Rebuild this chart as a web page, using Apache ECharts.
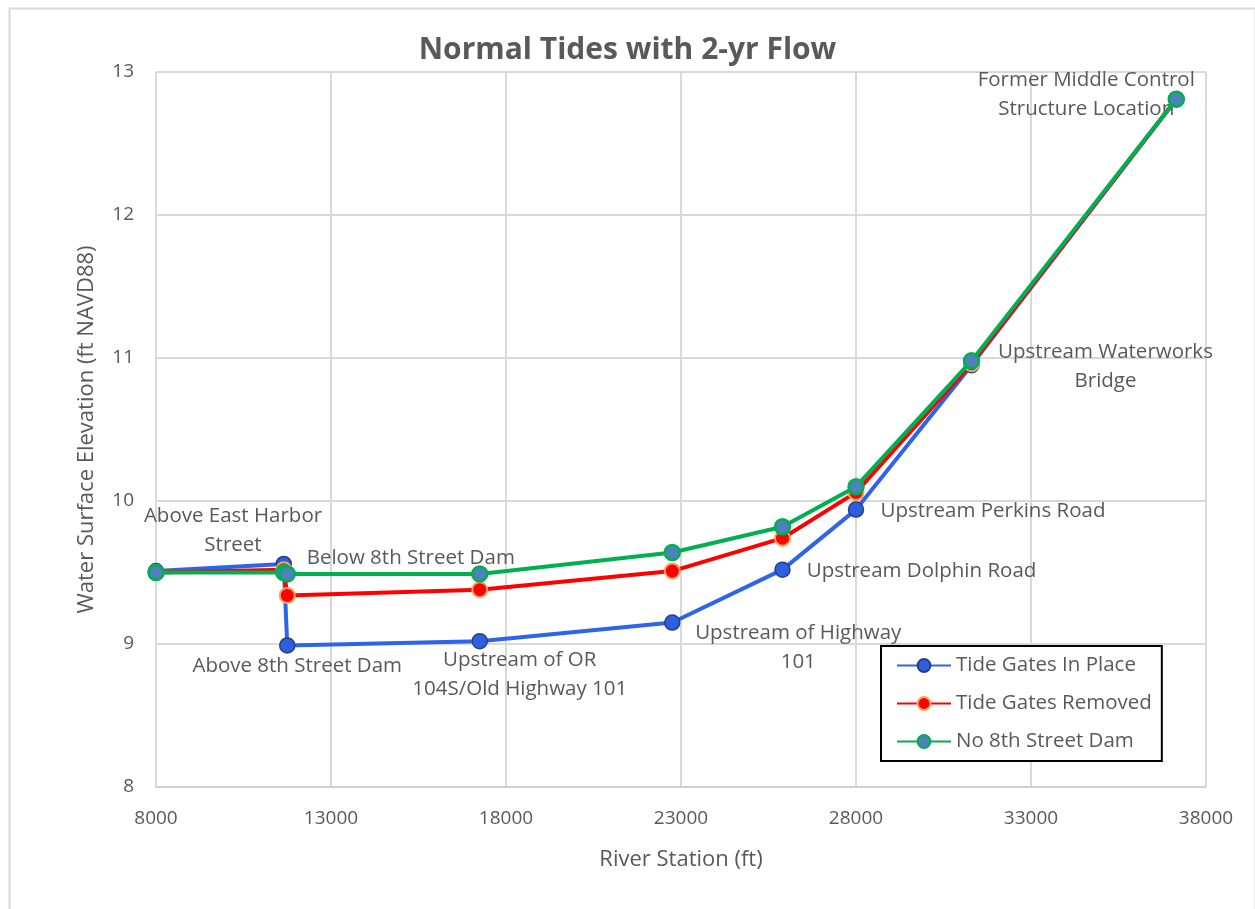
<!DOCTYPE html>
<html>
<head>
<meta charset="utf-8">
<script src="https://cdn.jsdelivr.net/npm/echarts@6/dist/echarts.min.js"></script>
<style>
html,body{margin:0;padding:0;background:#fff;}
#chart{width:1255px;height:909px;}
</style>
</head>
<body>
<div id="chart"></div>
<script>
// ---- data ----
const titleText = 'Normal Tides with 2-yr Flow';
const xAxisName = 'River Station (ft)';
const yAxisName = 'Water Surface Elevation (ft NAVD88)';
const seriesNames = ['Tide Gates In Place', 'Tide Gates Removed', 'No 8th Street Dam'];
const stations = [8000, 11650, 11750, 17250, 22750, 25900, 28000, 31300, 37150];
const tideGatesInPlace = [9.51, 9.56, 8.99, 9.02, 9.15, 9.52, 9.94, 10.95, 12.81];
const tideGatesRemoved = [9.50, 9.52, 9.34, 9.38, 9.51, 9.74, 10.06, 10.96, 12.81];
const no8thStreetDam   = [9.50, 9.50, 9.49, 9.49, 9.64, 9.82, 10.10, 10.98, 12.81];
const locationLabels = [
  'Above East Harbor\nStreet',
  'Below 8th Street Dam',
  'Above 8th Street Dam',
  'Upstream of OR\n104S/Old Highway 101',
  'Upstream of Highway\n101',
  'Upstream Dolphin Road',
  'Upstream Perkins Road',
  'Upstream Waterworks\nBridge',
  'Former Middle Control\nStructure Location'
];

// ---- label placement (pixel offsets from the point) ----
const labelOffsets = [
  [77, -40], [127, -6], [10, 21], [40, 34], [126, 25], [139, 2], [137, 2], [134, 2], [-90, -5]
];

const FONT = '"Open Sans", "Noto Sans", sans-serif';
const TXT = '#595959';

function pairs(ys) { return stations.map((x, i) => [x, ys[i]]); }

const blueData = stations.map((x, i) => ({
  value: [x, tideGatesInPlace[i]],
  label: {
    show: true,
    formatter: locationLabels[i],
    position: 'inside',
    offset: labelOffsets[i],
    align: 'center',
    verticalAlign: 'middle',
    color: TXT,
    fontFamily: FONT,
    fontSize: 20.5,
    lineHeight: 29
  }
}));

const chart = echarts.init(document.getElementById('chart'), null, {renderer: 'canvas'});
chart.setOption({
  animation: false,
  backgroundColor: '#fff',
  graphic: [{
    type: 'rect', left: 7, top: 6, z: -10,
    shape: {width: 1246, height: 920},
    style: {fill: 'none', stroke: '#d9d9d9', lineWidth: 2}
  }],
  title: {
    text: titleText, left: 'center', top: 30,
    textStyle: {fontFamily: FONT, fontSize: 30, fontWeight: 'bold', color: TXT}
  },
  grid: {left: 156, right: 49, top: 72, bottom: 122, containLabel: false},
  legend: {
    orient: 'vertical', left: 881, top: 646,
    data: seriesNames,
    backgroundColor: '#fff', borderColor: '#000', borderWidth: 2,
    padding: [9, 10, 9, 15],
    itemWidth: 54, itemHeight: 16, itemGap: 17,
    textStyle: {fontFamily: FONT, fontSize: 20.5, color: TXT}
  },
  xAxis: {
    type: 'value', min: 8000, max: 38000, interval: 5000,
    name: xAxisName, nameLocation: 'middle', nameGap: 62,
    nameTextStyle: {fontFamily: FONT, fontSize: 22, color: TXT},
    axisLine: {show: true, lineStyle: {color: '#d0d0d0', width: 2}},
    axisTick: {show: false},
    axisLabel: {fontFamily: FONT, fontSize: 19, color: TXT, margin: 22, formatter: v => String(v)},
    splitLine: {show: true, lineStyle: {color: '#d9d9d9', width: 2}}
  },
  yAxis: {
    type: 'value', min: 8, max: 13, interval: 1,
    name: yAxisName, nameLocation: 'middle', nameGap: 58,
    nameTextStyle: {fontFamily: FONT, fontSize: 22, color: TXT},
    axisLine: {show: false}, axisTick: {show: false},
    axisLabel: {fontFamily: FONT, fontSize: 19, color: TXT, margin: 22, formatter: v => String(v)},
    splitLine: {show: true, lineStyle: {color: '#d9d9d9', width: 2}}
  },
  series: [
    {
      name: seriesNames[0], type: 'line', data: blueData,
      symbol: 'circle', symbolSize: 15,
      lineStyle: {color: '#2E64EA', width: 4},
      itemStyle: {color: '#2E5FE0', borderColor: '#25407F', borderWidth: 1.5},
      z: 2
    },
    {
      name: seriesNames[1], type: 'line', data: pairs(tideGatesRemoved),
      symbol: 'circle', symbolSize: 15,
      lineStyle: {color: '#FF0000', width: 4},
      itemStyle: {color: '#FF0000', borderColor: '#F8A55B', borderWidth: 2},
      z: 3
    },
    {
      name: seriesNames[2], type: 'line', data: pairs(no8thStreetDam),
      symbol: 'circle', symbolSize: 15,
      lineStyle: {color: '#00B050', width: 4},
      itemStyle: {color: '#4F81BD', borderColor: '#00B050', borderWidth: 2.5},
      z: 4
    }
  ]
});
</script>
</body>
</html>
